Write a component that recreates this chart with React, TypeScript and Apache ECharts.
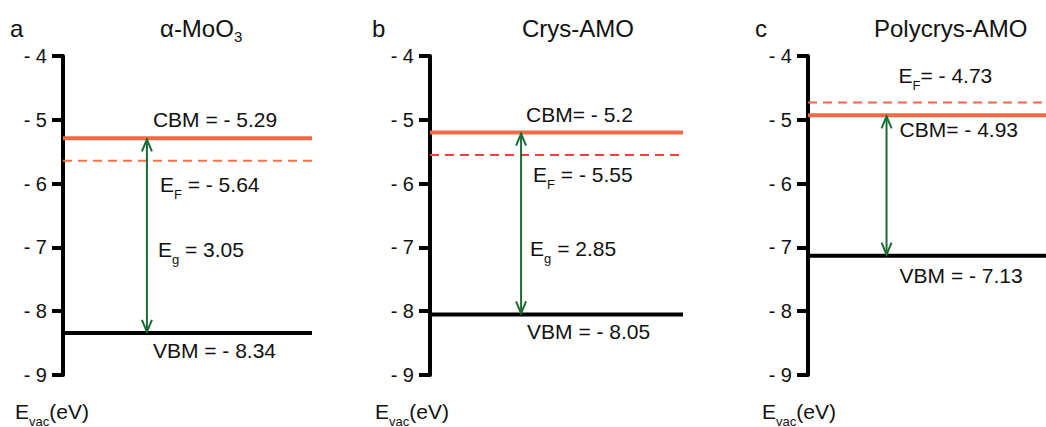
import React, { useEffect, useRef } from "react";
import * as echarts from "echarts";

// ---------- data ----------
const panelLetters = ["a", "b", "c"];
const titleMain = ["α-MoO", "Crys-AMO", "Polycrys-AMO"];
const titleSub = ["3", "", ""];
const cbmValues = [-5.29, -5.2, -4.93];
const efValues = [-5.64, -5.55, -4.73];
const vbmValues = [-8.34, -8.05, -7.13];
const egValues: (number | null)[] = [3.05, 2.85, null];
const cbmSep = [" = ", "= ", "= "];
const efSep = [" = ", " = ", "= "];
const yMin = -9;
const yMax = -4;
const yStep = 1;

// ---------- layout / style ----------
const FONT = '"Liberation Sans", Arial, Helvetica, sans-serif';
const TEXT_COLOR = "#111111";
const CBM_COLOR = "#F06B42";
const EF_COLORS = ["#F2724A", "#E8453F", "#F06B42"];
const ARROW_COLOR = "#1B6B35";
const grids = [
  { left: 63, top: 56, width: 249, height: 319 },
  { left: 430, top: 56, width: 253, height: 319 },
  { left: 808, top: 56, width: 238, height: 319 },
];
const arrowFrac = [0.337, 0.36, 0.33];
// label offsets: [dx from arrow, dy from the referenced line]
const labelOffsets = [
  { cbm: [6, -19], ef: [13, 24], eg: [11, 14], vbm: [6, 18] },
  { cbm: [5, -18], ef: [12, 20], eg: [9, 25], vbm: [6, 17] },
  { cbm: [13, 14], ef: [12, -27], eg: [9, 0], vbm: [13, 20] },
];
const letterX = [10, 372, 755];
const titleX = [160, 522, 874];
const evacX = [15, 375, 762];

// ---------- text helpers ----------
let measureCtx: CanvasRenderingContext2D | null = null;
function textWidth(t: string, size: number): number {
  if (!measureCtx) {
    const c = document.createElement("canvas");
    measureCtx = c.getContext("2d");
  }
  if (!measureCtx) return t.length * size * 0.55;
  measureCtx.font = `${size}px ${FONT}`;
  return measureCtx.measureText(t).width;
}

type Part = { t: string; sub?: boolean };

function textRun(
  parts: Part[],
  x: number,
  y: number,
  size: number,
  subSize: number,
  subDy: number
): any[] {
  const els: any[] = [];
  let cx = x;
  for (const p of parts) {
    const fs = p.sub ? subSize : size;
    let txt = p.t;
    const lead = txt.length - txt.replace(/^\s+/, "").length;
    if (lead > 0) {
      cx += textWidth(" ", fs) * lead;
      txt = txt.replace(/^\s+/, "");
    }
    if (!txt) continue;
    els.push({
      type: "text",
      x: cx,
      y: p.sub ? y + subDy : y,
      silent: true,
      style: {
        text: txt,
        fontSize: fs,
        fontFamily: FONT,
        fill: TEXT_COLOR,
        align: "left",
        verticalAlign: "middle",
        textAlign: "left",
        textVerticalAlign: "middle",
      },
    });
    cx += textWidth(txt, fs);
  }
  return els;
}

const fmt = (v: number) => "- " + String(Math.abs(v));

function buildOption() {
  const series: any[] = [];
  for (let i = 0; i < 3; i++) {
    series.push({
      type: "line",
      xAxisIndex: i,
      yAxisIndex: i,
      symbol: "none",
      silent: true,
      data: [
        [0, cbmValues[i]],
        [1, cbmValues[i]],
      ],
      lineStyle: { color: CBM_COLOR, width: 4 },
      z: 3,
    });
    series.push({
      type: "line",
      xAxisIndex: i,
      yAxisIndex: i,
      symbol: "none",
      silent: true,
      data: [
        [0, efValues[i]],
        [1, efValues[i]],
      ],
      lineStyle: { color: EF_COLORS[i], width: 2, type: [9, 6] },
      z: 3,
    });
    series.push({
      type: "line",
      xAxisIndex: i,
      yAxisIndex: i,
      symbol: "none",
      silent: true,
      data: [
        [0, vbmValues[i]],
        [1, vbmValues[i]],
      ],
      lineStyle: { color: "#000000", width: 4 },
      z: 3,
    });
    const idx = i;
    series.push({
      type: "custom",
      xAxisIndex: i,
      yAxisIndex: i,
      silent: true,
      z: 4,
      data: [[arrowFrac[i], cbmValues[i], vbmValues[i]]],
      renderItem: (_params: any, api: any) => {
        const ax = api.value(0);
        const top = api.coord([ax, cbmValues[idx]]);
        const bot = api.coord([ax, vbmValues[idx]]);
        const ef = api.coord([ax, efValues[idx]]);
        const x = top[0];
        const off = labelOffsets[idx];
        const children: any[] = [];
        // arrow
        children.push({
          type: "line",
          shape: { x1: x, y1: top[1] + 1, x2: x, y2: bot[1] - 1 },
          style: { stroke: ARROW_COLOR, lineWidth: 2 },
        });
        children.push({
          type: "polyline",
          shape: {
            points: [
              [x - 5, top[1] + 13],
              [x, top[1] + 1],
              [x + 5, top[1] + 13],
            ],
          },
          style: { stroke: ARROW_COLOR, lineWidth: 2, fill: null },
        });
        children.push({
          type: "polyline",
          shape: {
            points: [
              [x - 5, bot[1] - 13],
              [x, bot[1] - 1],
              [x + 5, bot[1] - 13],
            ],
          },
          style: { stroke: ARROW_COLOR, lineWidth: 2, fill: null },
        });
        // labels
        children.push(
          ...textRun(
            [{ t: "CBM" + cbmSep[idx] + fmt(cbmValues[idx]) }],
            x + off.cbm[0],
            top[1] + off.cbm[1],
            21,
            13,
            10
          )
        );
        children.push(
          ...textRun(
            [{ t: "E" }, { t: "F", sub: true }, { t: efSep[idx] + fmt(efValues[idx]) }],
            x + off.ef[0],
            ef[1] + off.ef[1],
            21,
            13,
            10
          )
        );
        const eg = egValues[idx];
        if (eg !== null) {
          children.push(
            ...textRun(
              [{ t: "E" }, { t: "g", sub: true }, { t: " = " + eg.toFixed(2) }],
              x + off.eg[0],
              (top[1] + bot[1]) / 2 + off.eg[1],
              21,
              13,
              10
            )
          );
        }
        children.push(
          ...textRun(
            [{ t: "VBM = " + fmt(vbmValues[idx]) }],
            x + off.vbm[0],
            bot[1] + off.vbm[1],
            21,
            13,
            10
          )
        );
        return { type: "group", children };
      },
    });
  }

  const graphics: any[] = [];
  for (let i = 0; i < 3; i++) {
    graphics.push(...textRun([{ t: panelLetters[i] }], letterX[i], 28, 24, 15, 8));
    const tparts: Part[] = [{ t: titleMain[i] }];
    if (titleSub[i]) tparts.push({ t: titleSub[i], sub: true });
    graphics.push(...textRun(tparts, titleX[i], 28, 24, 15, 8));
    graphics.push(
      ...textRun([{ t: "E" }, { t: "vac", sub: true }, { t: "(eV)" }], evacX[i], 411, 21, 13, 10)
    );
  }

  return {
    animation: false,
    backgroundColor: "#ffffff",
    grid: grids.map((g) => ({ ...g, containLabel: false })),
    xAxis: grids.map((_, i) => ({
      type: "value",
      gridIndex: i,
      min: 0,
      max: 1,
      show: false,
    })),
    yAxis: grids.map((_, i) => ({
      type: "value",
      gridIndex: i,
      min: yMin,
      max: yMax,
      interval: yStep,
      axisLine: { show: true, onZero: false, lineStyle: { color: "#000", width: 4 } },
      axisTick: { show: true, length: 11, lineStyle: { color: "#000", width: 4 } },
      splitLine: { show: false },
      axisLabel: {
        margin: 16,
        fontSize: 20,
        color: TEXT_COLOR,
        fontFamily: FONT,
        formatter: (v: number) => "- " + Math.abs(v),
      },
    })),
    graphic: { elements: graphics },
    series,
  };
}

export default function App() {
  const ref = useRef<HTMLDivElement>(null);
  useEffect(() => {
    if (!ref.current) return;
    const chart = echarts.init(ref.current, undefined, { renderer: "svg" });
    chart.setOption(buildOption() as any);
    return () => chart.dispose();
  }, []);
  return (
    <div
      ref={ref}
      style={{ position: "fixed", left: 0, top: 0, width: 1046, height: 427 }}
    />
  );
}
